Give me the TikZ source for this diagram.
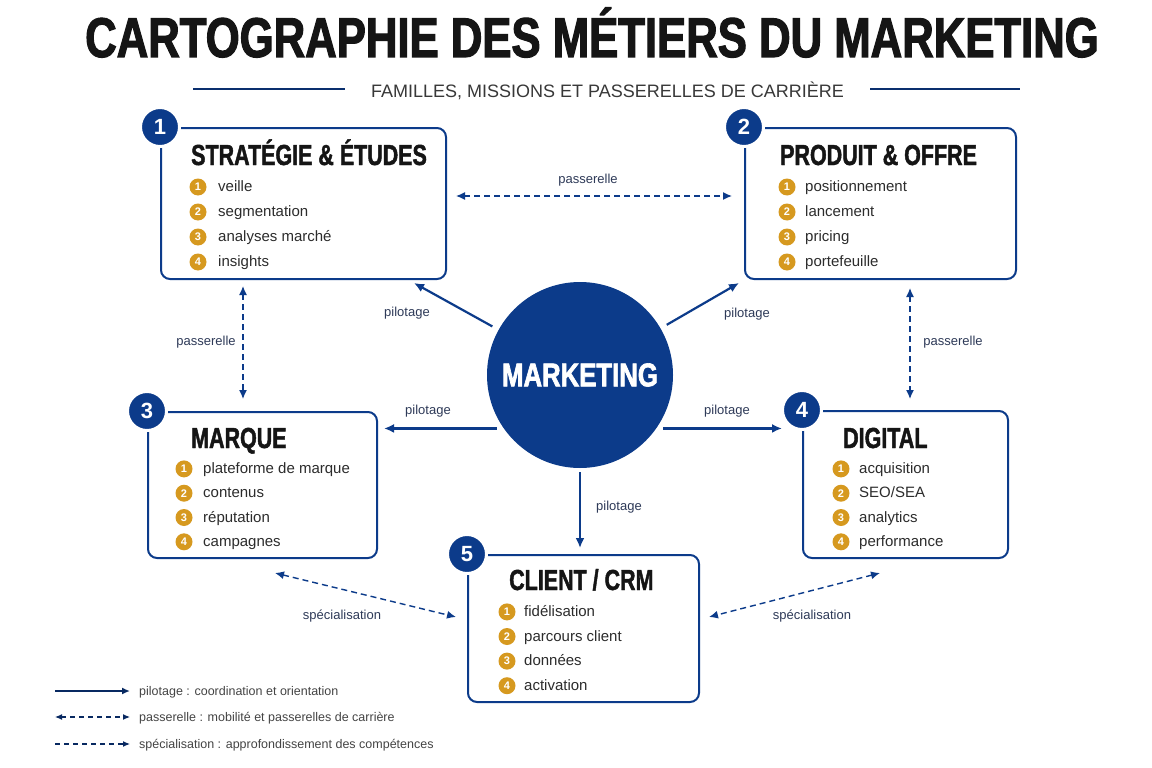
\documentclass[tikz,border=0pt]{standalone}
\usepackage{fontspec}
\setmainfont{Liberation Sans}
\newfontfamily\titrefont{Liberation Sans}[FakeStretch=0.78, FakeBold=2]
\newfontfamily\famfont{Liberation Sans}[FakeStretch=0.74, FakeBold=1.5]
\usetikzlibrary{arrows.meta}

\definecolor{bleu}{HTML}{0C3B8A}
\definecolor{doree}{HTML}{D6991F}
\definecolor{encre}{HTML}{151515}
\definecolor{ardoise}{HTML}{2E3A58}

\tikzset{
  famille/.style={draw=bleu, line width=2pt, rounded corners=9pt, fill=white, inner sep=0pt},
  numero/.style={circle, fill=bleu, draw=white, line width=3pt, minimum size=39pt, inner sep=0pt,
    text=white, font=\bfseries\fontsize{22}{22}\selectfont},
  famtitre/.style={anchor=base west, inner sep=0pt, text=encre, font=\famfont\bfseries\fontsize{29}{29}\selectfont},
  puce/.style={circle, fill=doree, minimum size=17pt, inner sep=0pt, text=white, font=\bfseries\fontsize{11}{11}\selectfont},
  item/.style={anchor=base west, yshift=-4.5pt, inner sep=0pt, text=encre!90, font=\fontsize{15}{15}\selectfont},
  pilot/.style={bleu, line width=2.2pt, -{Latex[length=10pt,width=9pt]}},
  passe/.style={bleu, line width=1.4pt, dash pattern=on 6pt off 4pt,
    {Latex[length=9pt,width=8pt]}-{Latex[length=9pt,width=8pt]}},
  lbl/.style={anchor=base, yshift=-4pt, inner sep=0pt, text=ardoise, font=\fontsize{13}{13}\selectfont},
  legende/.style={anchor=base west, yshift=-4pt, inner sep=0pt, text=encre!80, font=\fontsize{12.5}{12.5}\selectfont},
}

\begin{document}
\begin{tikzpicture}[x=1pt, y=-1pt]
  \fill[white] (0,0) rectangle (1152,768);
  \useasboundingbox (0,0) rectangle (1152,768);

  % titre
  \node[anchor=base, inner sep=0pt, text=encre, font=\titrefont\bfseries\fontsize{56}{60}\selectfont]
    (titre) at (592,57) {CARTOGRAPHIE DES MÉTIERS DU MARKETING};
  \node[anchor=base, inner sep=0pt, text=encre!85, font=\fontsize{18}{18}\selectfont]
    (soustitre) at (607.5,97) {FAMILLES, MISSIONS ET PASSERELLES DE CARRIÈRE};
  \coordinate (ga) at (193,89);
  \coordinate (gb) at (345,89);
  \coordinate (da) at (870,89);
  \coordinate (db) at (1020,89);
  \draw[bleu!80!black, line width=1.6pt] (ga) -- (gb) (da) -- (db);

  % familles
  \node[famille, minimum width=285pt, minimum height=151pt] (strat) at (303.5,203.5) {};
  \node[famille, minimum width=271pt, minimum height=151pt] (produit) at (880.5,203.5) {};
  \node[famille, minimum width=229pt, minimum height=146pt] (marque) at (262.5,485) {};
  \node[famille, minimum width=205pt, minimum height=147pt] (digital) at (905.5,484.5) {};
  \node[famille, minimum width=231pt, minimum height=147pt] (client) at (583.5,628.5) {};

  \node[numero] (n1) at (strat.north west) {1};
  \node[numero] (n2) at (produit.north west) {2};
  \node[numero] (n3) at (marque.north west) {3};
  \node[numero] (n4) at (digital.north west) {4};
  \node[numero] (n5) at (client.north west) {5};

  \node[famtitre] (t1) at (191,165) {STRATÉGIE \& ÉTUDES};
  \node[famtitre] (t2) at (780,165) {PRODUIT \& OFFRE};
  \node[famtitre] (t3) at (191,448) {MARQUE};
  \node[famtitre] (t4) at (843,448) {DIGITAL};
  \node[famtitre] (t5) at (509,590) {CLIENT / CRM};

  \foreach \txt [count=\i] in {veille, segmentation, analyses marché, insights} {
    \node[puce] (sp\i) at (198,162+25*\i) {\i};
    \node[item] (st\i) at (218,162+25*\i) {\txt};
  }
  \foreach \txt [count=\i] in {positionnement, lancement, pricing, portefeuille} {
    \node[puce] (pp\i) at (787,162+25*\i) {\i};
    \node[item] (pt\i) at (805,162+25*\i) {\txt};
  }
  \foreach \txt [count=\i] in {plateforme de marque, contenus, réputation, campagnes} {
    \node[puce] (mp\i) at (184,444.6+24.3*\i) {\i};
    \node[item] (mt\i) at (203,444.6+24.3*\i) {\txt};
  }
  \foreach \txt [count=\i] in {acquisition, SEO/SEA, analytics, performance} {
    \node[puce] (dp\i) at (841,444.6+24.3*\i) {\i};
    \node[item] (dt\i) at (859,444.6+24.3*\i) {\txt};
  }
  \foreach \txt [count=\i] in {fidélisation, parcours client, données, activation} {
    \node[puce] (cp\i) at (507,587.3+24.6*\i) {\i};
    \node[item] (ct\i) at (524,587.3+24.6*\i) {\txt};
  }

  % centre
  \node[circle, fill=bleu, minimum size=186pt, inner sep=0pt, text=white,
    font=\titrefont\bfseries\fontsize{33}{33}\selectfont] (mkt) at (580,375) {MARKETING};

  % pilotage
  \draw[pilot, shorten <=7pt] (mkt) -- ([shift={(-33,3)}]strat.south east);
  \draw[pilot, shorten <=7pt] (mkt) -- ([shift={(-5,3)}]produit.south west);
  \draw[pilot, shorten <=7pt, shorten >=6pt] (mkt.215) -- (mkt.215 -| marque.east);
  \draw[pilot, shorten <=7pt, shorten >=20pt] (mkt.-35) -- (mkt.-35 -| digital.west);
  \draw[pilot, shorten <=4pt, shorten >=6pt] (mkt.south) -- (mkt.south |- client.north);

  \node[lbl] (l1) at (407,312) {pilotage};
  \node[lbl] (l2) at (747,313) {pilotage};
  \node[lbl] (l3) at (428,410) {pilotage};
  \node[lbl] (l4) at (727,410) {pilotage};
  \node[lbl] (l5) at (619,506) {pilotage};

  % passerelles
  \draw[passe] ([shift={(9,-7.5)}]strat.east) -- ([shift={(-12,-7.5)}]produit.west);
  \draw[passe] ([shift={(-60.5,6)}]strat.south) -- ([shift={(-19.5,-12)}]marque.north);
  \draw[passe] ([shift={(29.5,8)}]produit.south) -- ([shift={(4.5,-11)}]digital.north);
  \node[lbl] (p1) at (588,179) {passerelle};
  \node[lbl] (p2) at (206,341) {passerelle};
  \node[lbl] (p3) at (953,341) {passerelle};

  % specialisation
  \draw[passe] ([shift={(12.5,14)}]marque.south) -- ([shift={(-11,-11.5)}]client.west);
  \draw[passe] ([shift={(-25.5,14)}]digital.south) -- ([shift={(9,-11.5)}]client.east);
  \node[lbl] (s1) at (342,615) {spécialisation};
  \node[lbl] (s2) at (812,615) {spécialisation};

  % legende
  \coordinate (la1) at (55,691);  \coordinate (lb1) at (130,691);
  \coordinate (la2) at (55,717);  \coordinate (lb2) at (130,717);
  \coordinate (la3) at (55,744);  \coordinate (lb3) at (130,744);
  \draw[bleu!70!black, line width=1.6pt, -{Latex[length=8pt,width=7pt]}] (la1) -- (lb1);
  \draw[bleu!70!black, line width=1.2pt, dash pattern=on 5pt off 4pt,
    {Latex[length=7pt,width=6pt]}-{Latex[length=7pt,width=6pt]}] (la2) -- (lb2);
  \draw[bleu!70!black, line width=1.2pt, dash pattern=on 5pt off 4pt, -{Latex[length=7pt,width=6pt]}] (la3) -- (lb3);
  \node[legende] (e1) at (139,691) {pilotage : coordination et orientation};
  \node[legende] (e2) at (139,717) {passerelle : mobilité et passerelles de carrière};
  \node[legende] (e3) at (139,744) {spécialisation : approfondissement des compétences};
\end{tikzpicture}
\end{document}
